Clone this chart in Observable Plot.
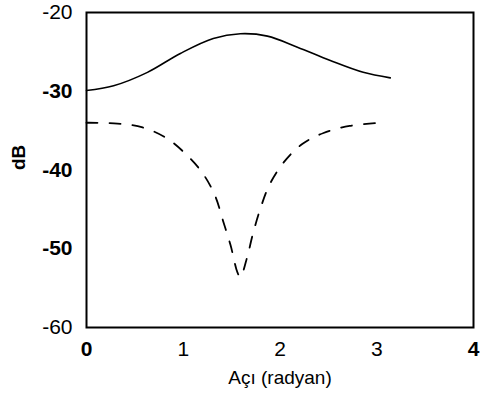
<!DOCTYPE html>
<html>
<head>
<meta charset="utf-8">
<script src="https://cdn.jsdelivr.net/npm/d3@7"></script>
<script src="https://cdn.jsdelivr.net/npm/@observablehq/plot@0.6"></script>
<style>
  html, body { margin: 0; padding: 0; background: #fff; }
  #chart svg { display: block; }
</style>
</head>
<body>
<div id="chart"></div>
<script>
const solidX = [0, 0.28, 0.63, 0.97, 1.31, 1.59, 1.87, 2.18, 2.52, 2.86, 3.14];
const solidY = [-29.9, -29.3, -27.6, -25.2, -23.3, -22.7, -23.0, -24.4, -26.1, -27.6, -28.3];

const dashX = [0, 0.32, 0.58, 0.82, 1.02, 1.20, 1.33, 1.41, 1.49, 1.56, 1.59, 1.66, 1.72, 1.80, 1.89, 2.04, 2.23, 2.45, 2.72, 3.04];
const dashY = [-34.0, -34.1, -34.6, -35.9, -37.9, -40.4, -43.3, -46.4, -49.6, -53.0, -53.6, -51.1, -48.1, -44.8, -41.9, -39.0, -36.7, -35.3, -34.4, -34.0];

const xTicks = [0, 1, 2, 3, 4];
const yTicks = [-60, -50, -40, -30, -20];
const boldTickLabels = ["-50", "-40", "-30", "0", "4"];
const xLabel = "Açı (radyan)";
const yLabel = "dB";

const solid = solidX.map((x, i) => ({x, y: solidY[i]}));
const dashed = dashX.map((x, i) => ({x, y: dashY[i]}));

const chart = Plot.plot({
  width: 480,
  height: 402,
  marginLeft: 86,
  marginRight: 7,
  marginTop: 12,
  marginBottom: 75,
  style: {fontFamily: "Liberation Sans, Arial, sans-serif", fontSize: "21px", color: "#000", background: "#fff"},
  x: {domain: [0, 4], ticks: xTicks, tickFormat: d => String(d), tickSize: 0, tickPadding: 14, label: null},
  y: {domain: [-60, -20], ticks: yTicks, tickFormat: d => String(d), tickSize: 0, tickPadding: 14, label: null},
  marks: [
    Plot.frame({stroke: "#000", strokeWidth: 2}),
    Plot.line(solid, {x: "x", y: "y", curve: "catmull-rom", stroke: "#000", strokeWidth: 1.6}),
    Plot.line(dashed, {x: "x", y: "y", curve: "catmull-rom", stroke: "#000", strokeWidth: 1.8, strokeDasharray: "11,12"}),
    Plot.text([xLabel], {frameAnchor: "bottom", dy: 56, fontSize: 19, fill: "#000"}),
    Plot.text([yLabel], {frameAnchor: "left", dx: -68, rotate: -90, fontSize: 19, fontWeight: "bold", fill: "#000"})
  ]
});
d3.select(chart).selectAll("g[aria-label$='tick label'] text")
  .filter(function() { return boldTickLabels.includes(this.textContent); })
  .attr("font-weight", "bold");
document.getElementById("chart").appendChild(chart);
</script>
</body>
</html>
